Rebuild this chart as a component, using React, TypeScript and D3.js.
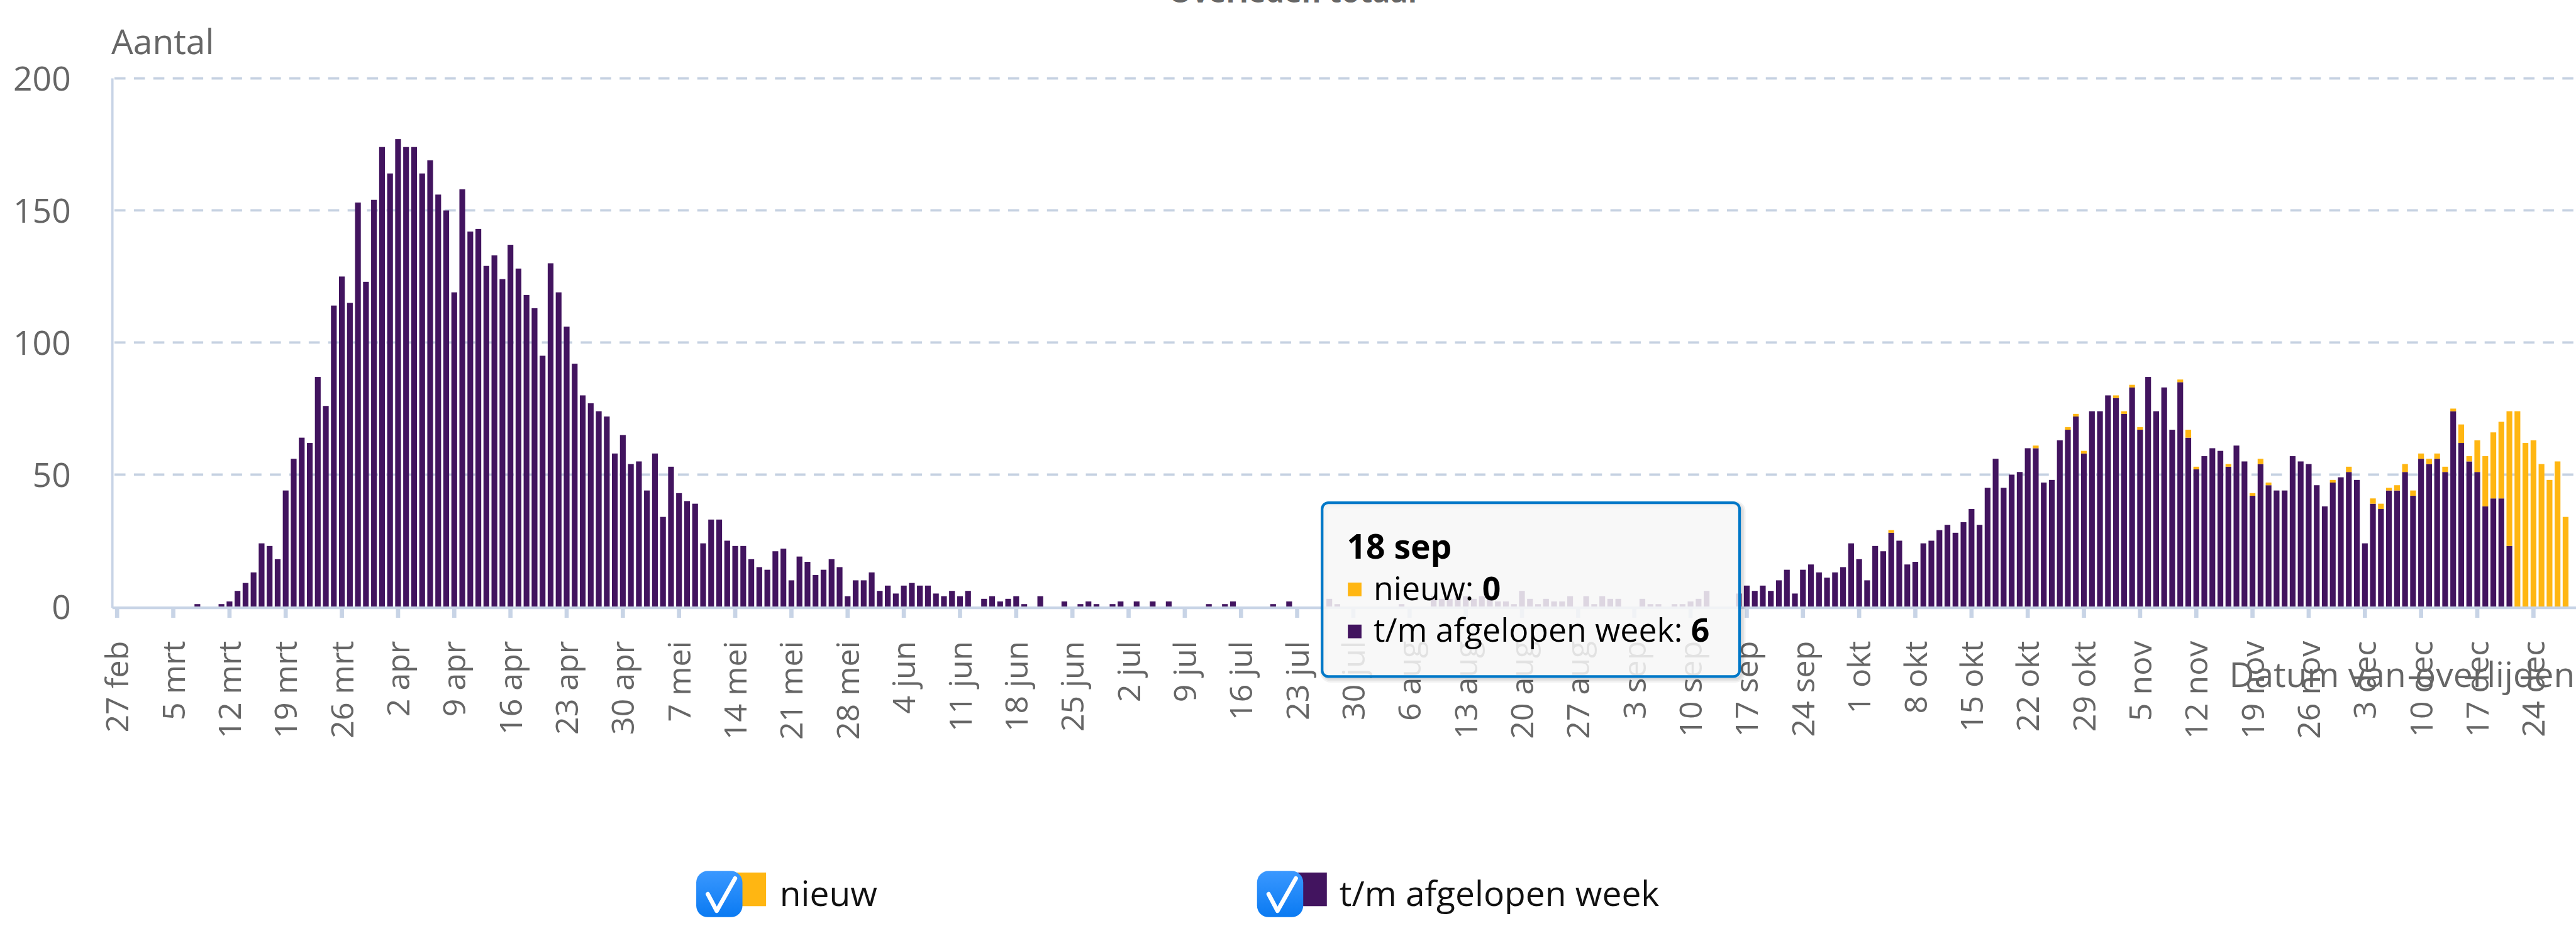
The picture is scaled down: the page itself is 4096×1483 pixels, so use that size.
import React from 'react';
import * as d3 from 'd3';

// days counted from 27 feb 2020
const startDate = new Date(2020, 1, 27);
const monthNames = ['jan', 'feb', 'mrt', 'apr', 'mei', 'jun', 'jul', 'aug', 'sep', 'okt', 'nov', 'dec'];

const tickLabels = [
  '27 feb', '5 mrt', '12 mrt', '19 mrt', '26 mrt', '2 apr', '9 apr', '16 apr', '23 apr', '30 apr',
  '7 mei', '14 mei', '21 mei', '28 mei', '4 jun', '11 jun', '18 jun', '25 jun', '2 jul', '9 jul',
  '16 jul', '23 jul', '30 jul', '6 aug', '13 aug', '20 aug', '27 aug', '3 sep', '10 sep', '17 sep',
  '24 sep', '1 okt', '8 okt', '15 okt', '22 okt', '29 okt', '5 nov', '12 nov', '19 nov', '26 nov',
  '3 dec', '10 dec', '17 dec', '24 dec',
];
const yTicks = [0, 50, 100, 150, 200];

// t/m afgelopen week (purple)
const afgelopenWeek = [
  0, 0, 0, 0, 0, 0, 0, 0, 0, 0,
  1, 0, 0, 1, 2, 6, 9, 13, 24, 23,
  18, 44, 56, 64, 62, 87, 76, 114, 125, 115,
  153, 123, 154, 174, 164, 177, 174, 174, 164, 169,
  156, 150, 119, 158, 142, 143, 129, 133, 124, 137,
  128, 118, 113, 95, 130, 119, 106, 92, 80, 77,
  74, 72, 58, 65, 54, 55, 44, 58, 34, 53,
  43, 40, 39, 24, 33, 33, 25, 23, 23, 18,
  15, 14, 21, 22, 10, 19, 17, 12, 14, 18,
  15, 4, 10, 10, 13, 6, 8, 5, 8, 9,
  8, 8, 5, 4, 6, 4, 6, 0, 3, 4,
  2, 3, 4, 1, 0, 4, 0, 0, 2, 0,
  1, 2, 1, 0, 1, 2, 0, 2, 0, 2,
  0, 2, 0, 0, 0, 0, 1, 0, 1, 2,
  0, 0, 0, 0, 1, 0, 2, 0, 0, 0,
  0, 3, 1, 0, 0, 0, 0, 0, 0, 0,
  1, 0, 0, 0, 4, 3, 3, 4, 4, 3,
  4, 4, 2, 2, 1, 6, 3, 1, 3, 2,
  2, 4, 0, 4, 1, 4, 3, 3, 0, 0,
  3, 1, 1, 0, 1, 1, 2, 3, 6, 0,
  0, 0, 5, 8, 6, 8, 6, 10, 14, 5,
  14, 16, 13, 11, 13, 15, 24, 18, 10, 23,
  21, 28, 25, 16, 17, 24, 25, 29, 31, 28,
  32, 37, 31, 45, 56, 45, 50, 51, 60, 60,
  47, 48, 63, 67, 72, 58, 74, 74, 80, 79,
  73, 83, 67, 87, 74, 83, 67, 85, 64, 52,
  57, 60, 59, 53, 61, 55, 42, 54, 46, 44,
  44, 57, 55, 54, 46, 38, 47, 49, 51, 48,
  24, 39, 37, 44, 44, 51, 42, 56, 54, 56,
  51, 74, 62, 55, 51, 38, 41, 41, 23, 0,
  0, 0, 0, 0, 0, 0,
];

// nieuw (yellow)
const nieuw = [
  0, 0, 0, 0, 0, 0, 0, 0, 0, 0,
  0, 0, 0, 0, 0, 0, 0, 0, 0, 0,
  0, 0, 0, 0, 0, 0, 0, 0, 0, 0,
  0, 0, 0, 0, 0, 0, 0, 0, 0, 0,
  0, 0, 0, 0, 0, 0, 0, 0, 0, 0,
  0, 0, 0, 0, 0, 0, 0, 0, 0, 0,
  0, 0, 0, 0, 0, 0, 0, 0, 0, 0,
  0, 0, 0, 0, 0, 0, 0, 0, 0, 0,
  0, 0, 0, 0, 0, 0, 0, 0, 0, 0,
  0, 0, 0, 0, 0, 0, 0, 0, 0, 0,
  0, 0, 0, 0, 0, 0, 0, 0, 0, 0,
  0, 0, 0, 0, 0, 0, 0, 0, 0, 0,
  0, 0, 0, 0, 0, 0, 0, 0, 0, 0,
  0, 0, 0, 0, 0, 0, 0, 0, 0, 0,
  0, 0, 0, 0, 0, 0, 0, 0, 0, 0,
  0, 0, 0, 0, 0, 0, 0, 0, 0, 0,
  0, 0, 0, 0, 0, 0, 0, 0, 0, 0,
  0, 0, 0, 0, 0, 0, 0, 0, 0, 0,
  0, 0, 0, 0, 0, 0, 0, 0, 0, 0,
  0, 0, 0, 0, 0, 0, 0, 0, 0, 0,
  0, 0, 0, 0, 0, 0, 0, 0, 0, 0,
  0, 0, 0, 0, 0, 0, 0, 0, 0, 0,
  0, 1, 0, 0, 0, 0, 0, 0, 0, 0,
  0, 0, 0, 0, 0, 0, 0, 0, 0, 1,
  0, 0, 0, 1, 1, 1, 0, 0, 0, 1,
  1, 1, 1, 0, 0, 0, 0, 1, 3, 1,
  0, 0, 0, 1, 0, 0, 1, 2, 1, 0,
  0, 0, 0, 0, 0, 0, 1, 0, 2, 0,
  0, 2, 2, 1, 2, 3, 2, 2, 2, 2,
  2, 1, 7, 2, 12, 19, 25, 29, 51, 74,
  62, 63, 54, 48, 55, 34,
];

const hoverIndex = 204; // tooltip shown for this day

const W = 4906;
const H = 1776;
const FONT = '"Open Sans", "Noto Sans", sans-serif';
const PURPLE = '#42145f';
const YELLOW = '#ffb612';
const GRID = '#c5d1e1';
const AXIS = '#c8d4e6';
const LABEL = '#666666';

const Checkbox = ({ x, y }) => (
  <g transform={`translate(${x},${y})`}>
    <rect width={88} height={88} rx={22} fill="url(#cbGrad)" />
    <path d="M22,44 L39,76 L74,14" fill="none" stroke="#ffffff" strokeWidth={8} strokeLinecap="round" strokeLinejoin="round" />
  </g>
);

export default function App() {
  const x = d3.scaleLinear().domain([0, 301]).range([223, 4825]);
  const y = d3.scaleLinear().domain([0, 200]).range([1155, 149]);
  const barW = 11;

  const rows = afgelopenWeek.map((v, i) => ({ i, week: v, nieuw: nieuw[i] }));
  const series = d3.stack().keys(['week', 'nieuw'])(rows);
  const colors = [PURPLE, YELLOW];

  const hoverDate = d3.timeDay.offset(startDate, hoverIndex);
  const hoverLabel = `${hoverDate.getDate()} ${monthNames[hoverDate.getMonth()]}`;

  const tip = { x: 2518, y: 957, w: 795, h: 331 };

  return (
    <>
      <style>{'body{margin:0}'}</style>
      <svg width={4096} height={1483} viewBox={`0 0 ${W} ${H}`} style={{ display: 'block', fontFamily: FONT }}>
        <defs>
          <linearGradient id="cbGrad" x1="0" y1="0" x2="0" y2="1">
            <stop offset="0" stopColor="#3a98ff" />
            <stop offset="1" stopColor="#0a7af2" />
          </linearGradient>
        </defs>
        <rect width={W} height={H} fill="#ffffff" />

        {/* title, mostly above the top edge like in the screenshot */}
        <text x={2462} y={5} textAnchor="middle" fontSize={56} fontWeight="bold" fill={LABEL}>Overleden totaal</text>

        {/* grid */}
        {yTicks.filter(v => v > 0).map(v => (
          <line key={v} x1={218} x2={W} y1={y(v)} y2={y(v)} stroke={GRID} strokeWidth={4.5} strokeDasharray="21 16" />
        ))}
        <line x1={214} x2={214} y1={149} y2={1157} stroke={AXIS} strokeWidth={4.5} />

        {/* y labels */}
        {yTicks.map(v => (
          <text key={v} x={135} y={y(v)} dy="0.36em" textAnchor="end" fontSize={64} fill={LABEL}>{v}</text>
        ))}
        <text x={212} y={103} fontSize={66} fill={LABEL}>Aantal</text>

        {/* bars */}
        {series.map((s, si) => (
          <g key={s.key} fill={colors[si]}>
            {s.filter(d => d[1] > d[0]).map(d => (
              <rect key={d.data.i} x={x(d.data.i) - barW / 2} width={barW}
                y={y(d[1])} height={y(d[0]) - y(d[1])} />
            ))}
          </g>
        ))}

        {/* x axis */}
        <line x1={214} x2={W} y1={1157} y2={1157} stroke={AXIS} strokeWidth={5} />
        {tickLabels.map((t, i) => (
          <g key={t} transform={`translate(${x(i * 7)},0)`}>
            <line y1={1157} y2={1176} stroke={AXIS} strokeWidth={8} />
            <text transform="translate(0,1220) rotate(-90)" dy="0.36em" textAnchor="end" fontSize={60} fill={LABEL}>{t}</text>
          </g>
        ))}
        <text x={4904} y={1308} textAnchor="end" fontSize={66} fill={LABEL}>Datum van overlijden</text>

        {/* legend */}
        <rect x={1400} y={1661} width={59} height={64} fill={YELLOW} />
        <Checkbox x={1326} y={1658} />
        <text x={1485} y={1725} fontSize={66} fill="#111">nieuw</text>
        <rect x={2466} y={1661} width={61} height={64} fill={PURPLE} />
        <Checkbox x={2394} y={1658} />
        <text x={2551} y={1725} fontSize={66} fill="#111">t/m afgelopen week</text>

        {/* tooltip */}
        <g>
          {[15, 9, 3].map(sw => (
            <rect key={sw} x={tip.x + 4} y={tip.y + 4} width={tip.w} height={tip.h} rx={12}
              fill="none" stroke="rgba(0,0,0,0.05)" strokeWidth={sw} />
          ))}
          <rect x={tip.x} y={tip.y} width={tip.w} height={tip.h} rx={12}
            fill="rgba(247,247,247,0.86)" stroke="#0078c8" strokeWidth={5} />
          <text x={2565} y={1063} fontSize={64} fontWeight="bold" fill="#000">{hoverLabel}</text>
          <rect x={2567} y={1109} width={26} height={26} fill={YELLOW} />
          <text x={2616} y={1143} fontSize={62} fill="#000">
            nieuw: <tspan fontWeight="bold">{nieuw[hoverIndex]}</tspan>
          </text>
          <rect x={2567} y={1189} width={26} height={26} fill={PURPLE} />
          <text x={2616} y={1222} fontSize={62} fill="#000">
            t/m afgelopen week: <tspan fontWeight="bold">{afgelopenWeek[hoverIndex]}</tspan>
          </text>
        </g>
      </svg>
    </>
  );
}
